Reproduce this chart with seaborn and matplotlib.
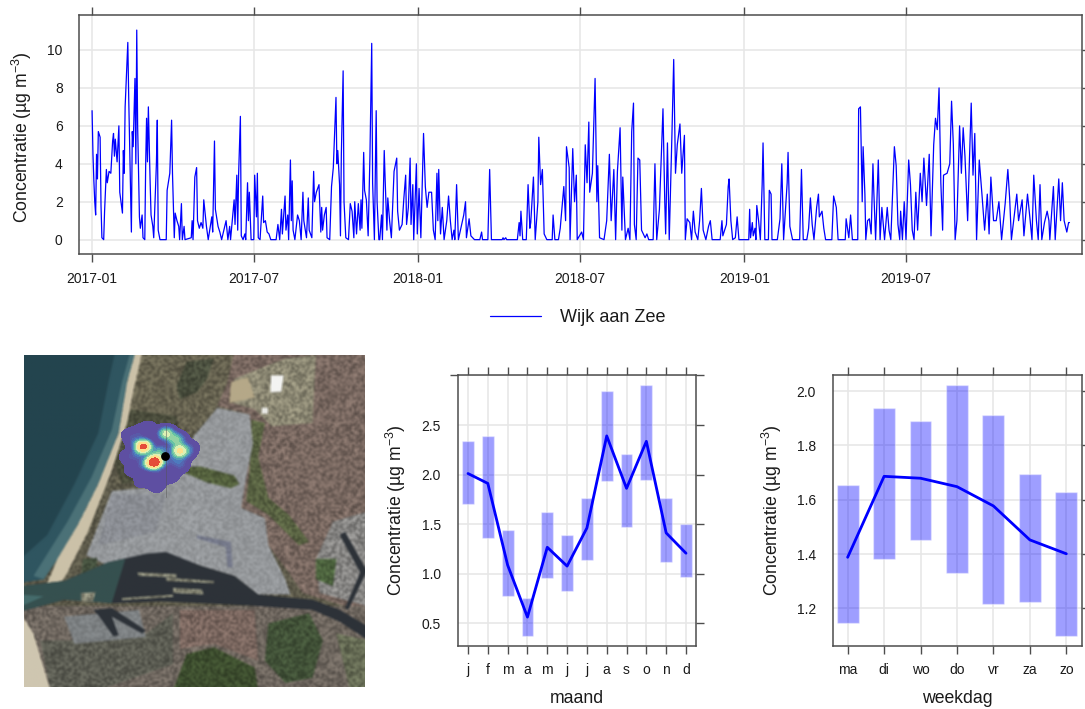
import numpy as np
import pandas as pd
import matplotlib
matplotlib.use('Agg')
import matplotlib.pyplot as plt
import seaborn as sns
from matplotlib.colors import LinearSegmentedColormap
from matplotlib.patches import Polygon

# DATA: TIJDREEKS (dagen sinds 2017-01-01, concentratie)
dag = [0,1,2,3,4,5,6,7,9,10,11,13,14,16,17,19,21,23,24,25,26,28,30,31,34,35,36,37,40,41,44,45,46,48,49,50,51,53,54,56,57,59,60,61,62,63,65,66,68,69,72,73,74,76,83,84,87,89,90,92,93,95,97,98,100,101,103,104,111,112,113,115,117,118,120,122,124,125,127,128,130,134,135,137,138,141,143,145,150,152,154,155,159,160,162,163,164,166,167,169,171,172,174,175,176,178,181,182,184,185,186,188,191,192,194,196,198,200,206,208,210,212,213,216,217,219,220,222,223,224,225,227,230,232,234,236,237,240,242,243,246,248,249,251,254,256,257,258,260,262,263,266,268,270,273,274,275,277,278,279,281,282,284,287,289,291,293,294,296,298,300,301,302,304,305,307,309,311,313,314,316,318,319,321,322,324,325,327,328,330,331,333,335,338,341,342,344,
       347,349,351,352,354,356,357,359,360,363,364,366,368,371,373,375,377,380,382,384,386,387,388,390,392,394,397,399,401,403,405,406,408,410,416,418,419,422,424,428,434,436,437,443,445,447,459,460,461,463,464,476,478,479,480,482,486,488,490,491,494,496,499,500,502,504,506,509,515,516,518,522,524,528,530,531,534,535,538,540,542,543,548,550,552,554,556,557,560,563,565,566,568,573,576,579,581,584,586,588,591,593,594,597,600,602,604,606,607,609,611,613,615,619,621,623,628,630,632,635,638,639,641,642,644,646,649,651,653,655,658,660,663,664,666,669,671,673,675,678,680,682,684,687,690,692,694,703,705,706,710,712,713,715,717,720,722,724,
       735,736,737,739,740,742,743,744,746,748,750,751,753,757,758,760,761,767,770,772,774,778,779,781,784,792,794,796,800,802,804,806,808,811,813,814,817,819,821,828,830,833,835,843,844,847,849,851,857,858,860,862,863,865,866,868,870,872,874,875,877,880,882,884,887,890,892,894,898,900,902,904,905,907,909,911,914,916,918,920,922,924,927,929,931,934,937,939,942,944,946,948,950,952,953,957,960,962,964,966,968,971,973,975,977,980,982,984,986,988,990,993,996,999,1002,1004,1006,1009,1012,1015,1018,1022,1025,1027,1029,1035,1037,1041,1043,1047,1050,1052,1054,1057,1059,1061,1063,1066,1069,1071,1072,1076,1078,1082,1084,1086,1088,1091,1093,1094]
conc = [6.8,4.5,3.1,2.0,1.3,4.5,3.2,5.7,5.4,1.8,0.1,0,1.5,3.7,3.0,3.6,3.5,5.2,5.6,4.4,5.3,4.1,6.0,2.5,1.4,4.7,3.5,7,10.4,7.5,0.4,5.7,4.9,8.5,4,11.05,6,1.2,0.6,1.3,0.1,0,4,6.4,4.1,7,3,1.3,0.7,0.1,4,6.3,0.5,0,0,2.6,3.5,6.3,3.5,0.1,1.4,1,0.7,0,1.9,0,0.7,0,0.1,1,0,3.3,3.8,1,0.6,0.9,0.6,2.1,1.2,0.7,0,1.2,0.4,5.2,1.6,0.7,0.4,0,1,0,0.7,0,2.1,0.8,3.4,0.5,3.4,6.5,0.2,0,0.3,0,3,1,2.5,0,0,3.4,1.2,3.5,0.1,0,2.3,0.9,1,0.4,0.3,0,0,0.8,0,1.6,0.3,2.3,0.5,1.3,0,4.2,1,3.1,0.5,0,1.3,1,0,2.5,1,0.1,2.2,0.5,0.1,3.6,2,2.5,2.9,0.4,1.7,0.5,1.3,1.7,0.1,0,2.8,3.8,7.5,4,4.7,2.9,0.2,4.5,8.9,2,0.1,0,1.9,1.5,0.1,2,0.3,1.9,0.5,2.1,0.6,4.6,2.6,2.1,0.2,4.4,10.35,3,0,6.8,2,0,0,1.3,0,4.7,3.2,0.5,2.2,1,0.1,3.6,4.3,1.5,0.5,
        0.8,2.2,3.4,0.8,1.7,4.3,0.8,2.9,0,4,0.3,2.7,0.1,5.6,2.8,1.7,2.5,2.5,0.5,0,3.5,1,3.7,0.3,1.7,0,1,2.3,1,0,0.5,0,2.9,0,1.3,2,0.1,1.1,0.2,0,0,0.4,0,0,3.7,0,0,0.1,0,0.1,0,0,0.9,0.2,1.5,0,0,2.9,0.6,0.9,3.3,0,2,5.4,2.9,3.7,0.3,0,0,1.3,0,0,0.6,2.8,1,4.9,3.8,0,4.8,2,3.4,0,0.4,0,5,3,6.2,2.5,3.5,8.5,2,3.9,0.1,0,1,4.5,1,3.7,0,3.6,5.9,0.5,3.3,0,0.6,0,5.7,7.2,0.8,0,4.3,4.2,0.5,0.1,0.3,0,0,4,0,1.6,5.7,6.9,2,0.3,5.1,0,5.5,9.5,3.5,5,6.1,3.5,5.5,0,1.1,0.9,0,1.5,0.4,0,1,2.7,0.5,0,0.7,1,0,0,1,0.2,0.8,2.8,3.2,1,0,0.1,1.2,0,
        0,1.6,0.1,0.9,0.2,0.6,0,1.8,1,0,2.9,5.1,0,0,2.6,2.4,0,0,1.1,4,0,3,4.6,0.7,0,0,3.7,0,0,0.6,2.2,0.8,0,1.7,2.4,1.2,1.5,0.6,0,0,2.3,1.7,0,0,1.1,0.1,1.3,0,0,6.9,7,2,4.9,2.4,0,1,1.1,0.3,4,2.5,0,4.2,0,1.7,0,1.7,0.5,0,4.9,3.9,0.8,0,1.5,0,2,0,4.2,2.9,0.5,0,2.5,0.5,3.5,2,4.3,1.8,4.5,0.2,5,6.4,5.8,8,3,0.5,3.4,3.5,4,7.3,5,0,1,6,3.5,5.9,4.4,1,4.2,7.2,3.4,5.6,0,4.2,2.4,0.5,2.4,0.3,3.3,1,1,2,0,1.9,3.7,2.2,0,2.4,1,2.1,0.2,2.4,1,0,3.4,1,0,2.9,0,0.9,1.5,1,0,2.8,0,3.2,1,3,1,0.4,0.9,0.9]
reeks_naam = 'Wijk aan Zee'
y_ticks_top = [0, 2, 4, 6, 8, 10]
x_ticks_top = ['2017-01', '2017-07', '2018-01', '2018-07', '2019-01', '2019-07']

# DATA: MAAND
maanden = ['j', 'f', 'm', 'a', 'm', 'j', 'j', 'a', 's', 'o', 'n', 'd']
maand_gem = [2.01, 1.91, 1.085, 0.56, 1.265, 1.075, 1.46, 2.39, 1.86, 2.335, 1.41, 1.205]
maand_laag = [1.70, 1.355, 0.77, 0.37, 0.95, 0.825, 1.14, 1.93, 1.47, 1.94, 1.115, 0.96]
maand_hoog = [2.338, 2.385, 1.44, 0.75, 1.625, 1.385, 1.765, 2.845, 2.205, 2.905, 1.765, 1.505]
y_ticks_maand = [0.5, 1.0, 1.5, 2.0, 2.5, 3.0]

# DATA: WEEKDAG
dagen = ['ma', 'di', 'wo', 'do', 'vr', 'za', 'zo']
dag_gem = [1.388, 1.686, 1.679, 1.648, 1.577, 1.452, 1.401]
dag_laag = [1.145, 1.38, 1.45, 1.329, 1.215, 1.223, 1.099]
dag_hoog = [1.653, 1.939, 1.891, 2.023, 1.913, 1.695, 1.629]
y_ticks_dag = [1.2, 1.4, 1.6, 1.8, 2.0]

# DATA: POLLUTIEROOS OP DE KAART
roos_x = [462, 430, 538, 497, 525, 480, 400, 380, 395, 425, 470, 515, 545, 565, 575, 540, 445, 385, 420, 430, 505, 410, 480, 535]
roos_y = [352, 305, 318, 265, 285, 320, 290, 335, 375, 410, 425, 395, 365, 325, 305, 280, 245, 268, 260, 360, 350, 335, 395, 350]
roos_w = [11, 9, 6, 5, 3, 3, 1.2, 1.2, 1.2, 1.2, 1.2, 1.2, 1.2, 1.2, 1, 1.2, 1, 1, 1.2, 1.2, 1.2, 1.2, 1.2, 1.2]

sns.set_theme(style='white')
plt.rcParams['font.family'] = ['Liberation Sans', 'DejaVu Sans']
plt.rcParams['mathtext.fontset'] = 'custom'
plt.rcParams['mathtext.rm'] = 'Liberation Sans'
plt.rcParams['mathtext.default'] = 'regular'

B, H = 1085, 709
KADER = '#4d4d4d'
GRID = '#e6e6e6'
YLABEL = 'Concentratie (µg m$^{-3}$)'

# ACHTERGROND KAART: vlakken, daarna korrel en vervaging
vlakken = [
    # zee
    ([(72, 30), (410, 30), (385, 120), (360, 270), (300, 420), (240, 540), (180, 640), (140, 700), (72, 710)], '#24444e'),
    ([(350, 30), (410, 30), (385, 120), (360, 270), (300, 420), (240, 540), (180, 640), (140, 700), (72, 710), (72, 640), (150, 570), (230, 420), (300, 270), (330, 120)], '#2f5560'),
    ([(395, 30), (410, 30), (385, 120), (360, 270), (300, 420), (240, 540), (180, 640), (140, 700), (110, 690), (210, 530), (280, 400), (340, 260), (370, 120)], '#4b7177'),
    # noordelijke duinen
    ([(430, 30), (760, 30), (690, 180), (560, 280), (520, 390), (350, 420), (385, 240), (405, 140)], '#6a6653'),
    ([(560, 60), (640, 50), (620, 110), (590, 150), (540, 170), (530, 130)], '#4c5140'),
    ([(395, 200), (530, 220), (540, 280), (500, 400), (370, 420), (345, 350)], '#4d4f3e'),
    # stad oost
    ([(700, 30), (1094, 30), (1094, 800), (900, 740), (860, 680), (800, 600), (790, 520), (720, 490), (745, 300), (745, 215), (650, 190), (680, 120)], '#7b6a62'),
    ([(700, 110), (850, 50), (940, 40), (930, 240), (810, 250), (760, 200), (690, 180)], '#8f8b76'),
    ([(750, 230), (790, 240), (770, 340), (800, 460), (860, 510), (920, 590), (890, 600), (800, 510), (735, 470), (745, 380)], '#5b6544'),
    ([(990, 530), (1094, 500), (1094, 780), (950, 740), (940, 640)], '#8b8a88'),
    ([(940, 640), (1000, 640), (990, 720), (940, 700)], '#4f6640'),
    ([(808, 100), (845, 100), (838, 148), (806, 150)], '#f4f4f2'),
    ([(782, 195), (800, 195), (800, 212), (782, 212)], '#e8e8e4'),
    ([(690, 120), (740, 105), (760, 165), (685, 182)], '#b5a888'),
    # staalfabriek
    ([(650, 195), (745, 215), (755, 300), (735, 400), (720, 490), (790, 520), (800, 600), (850, 700), (865, 745), (770, 745), (700, 690), (600, 660), (500, 625), (440, 630), (330, 660), (265, 630), (340, 440), (450, 430), (520, 390), (580, 280)], '#95989b'),
    ([(590, 570), (690, 590), (695, 665), (680, 665), (675, 605), (590, 580)], '#75798a'),
    ([(340, 450), (500, 450), (470, 560), (300, 600)], '#8b8e94'),
    ([(545, 370), (600, 368), (700, 395), (715, 420), (690, 432), (620, 415), (550, 385)], '#56633f'),
    ([(255, 640), (297, 637), (295, 680), (250, 690)], '#475340'),
    # strand
    ([(410, 30), (430, 30), (405, 140), (385, 240), (340, 380), (270, 560), (210, 680), (190, 712), (150, 712), (180, 640), (240, 540), (300, 420), (360, 270), (385, 120)], '#cbc1a8'),
    # zuid
    ([(72, 780), (1094, 780), (1094, 1027), (72, 1027)], '#716961'),
    ([(520, 1027), (560, 920), (640, 900), (760, 960), (770, 1027)], '#3f5030'),
    ([(800, 830), (920, 800), (960, 880), (930, 990), (850, 1005), (790, 940)], '#44553a'),
    ([(540, 790), (760, 790), (770, 940), (640, 890), (540, 905)], '#7e6a62'),
    ([(1000, 860), (1094, 880), (1094, 1027), (1040, 1027)], '#6a7058'),
    ([(130, 880), (220, 880), (440, 860), (520, 800), (520, 950), (300, 1027), (160, 1027)], '#5e5f55'),
    ([(200, 810), (420, 790), (440, 870), (230, 890)], '#7d8183'),
    ([(72, 800), (110, 860), (160, 1027), (72, 1027)], '#cfc6b0'),
    # water
    ([(72, 720), (200, 705), (330, 650), (440, 625), (500, 620), (600, 660), (700, 690), (770, 745), (930, 760), (1010, 790), (1094, 840), (1094, 880), (1010, 825), (930, 790), (760, 778), (600, 770), (480, 765), (350, 770), (200, 760), (72, 795)], '#2d3238'),
    ([(72, 720), (200, 705), (330, 650), (380, 640), (340, 770), (200, 760), (72, 795)], '#36504f'),
    ([(72, 745), (140, 750), (72, 780)], '#456c6c'),
    ([(1010, 570), (1025, 560), (1090, 675), (1035, 790), (1025, 785), (1070, 680)], '#2d3238'),
    ([(285, 790), (340, 785), (440, 850), (430, 860), (340, 810), (360, 865), (345, 868), (300, 805)], '#2d3238'),
    # pieren
    ([(415, 680), (530, 685), (530, 695), (420, 690)], '#8a8a78'),
    ([(500, 695), (640, 705), (640, 712), (500, 705)], '#8a8a78'),
    ([(520, 725), (605, 730), (610, 745), (520, 740)], '#8a8a78'),
    ([(370, 755), (520, 745), (520, 752), (370, 762)], '#8a8a78'),
    ([(250, 740), (292, 738), (285, 765), (250, 765)], '#8a8a78'),
]

def kaart_plaatje():
    f = plt.figure(figsize=(3.41, 3.32), dpi=100)
    a = f.add_axes([0, 0, 1, 1])
    for punten, kleur in vlakken:
        a.add_patch(Polygon(punten, closed=True, facecolor=kleur, edgecolor='none'))
    a.set_xlim(76, 1090)
    a.set_ylim(1023, 34)
    a.axis('off')
    f.patch.set_facecolor('#5f5c4c')
    f.canvas.draw()
    rgb = np.asarray(f.canvas.buffer_rgba())[:, :, :3] / 255
    plt.close(f)
    # korrel op land (vaste patroonfunctie), zee en strand blijven glad
    yy, xx = np.indices(rgb.shape[:2]) // 2
    korrel = np.sin(xx * 12.9898 + yy * 78.233) * 43758.5453 % 1
    land = (rgb[:, :, 0] >= rgb[:, :, 2]) & (rgb[:, :, 0] < 0.7)
    staal = (rgb[:, :, 2] > rgb[:, :, 0]) & (rgb[:, :, 0] > 0.45)
    fac = np.where(land, 0.72 + 0.5 * korrel, 1.0)
    fac = np.where(staal, 0.9 + 0.2 * korrel, fac)
    rgb = np.clip(rgb * fac[:, :, None], 0, 1)
    # vervagen met 3x3 gemiddelde
    som = sum(np.roll(np.roll(rgb, i, 0), j, 1) for i in (-1, 0, 1) for j in (-1, 0, 1))
    return (som / 9)[2:-2, 2:-2]

fig = plt.figure(figsize=(B / 100, H / 100), dpi=100)

def as_px(x0, y0, x1, y1):
    return fig.add_axes([x0 / B, 1 - y1 / H, (x1 - x0) / B, (y1 - y0) / H])

def opmaak(ax):
    ax.grid(True, color=GRID, lw=1.1)
    ax.set_axisbelow(True)
    for s in ax.spines.values():
        s.set_visible(True)
        s.set_color(KADER)
        s.set_linewidth(1.1)
    ax.tick_params(axis='x', top=True, bottom=True, length=5.5, width=1, color=KADER,
                   labelsize=10, labelcolor='#1a1a1a', pad=7)
    ax.tick_params(axis='y', left=False, right=True, length=5.5, width=1, color=KADER,
                   labelsize=10, labelcolor='#1a1a1a', pad=6.5)

# GRAFIEK 1: TIJDREEKS
ax1 = as_px(79.3, 15, 1082, 254.3)
df = pd.DataFrame({'dag': dag, 'conc': conc})
sns.lineplot(data=df, x='dag', y='conc', color='#0000ff', lw=0.9, estimator=None,
             sort=False, label=reeks_naam, legend=False, ax=ax1)
ax1.set_xlim(-14.3, 1108)
ax1.set_ylim(-0.773, 11.845)
x_pos = [(pd.Timestamp(t + '-01') - pd.Timestamp('2017-01-01')).days for t in x_ticks_top]
ax1.set_xticks(x_pos, x_ticks_top)
ax1.set_yticks(y_ticks_top)
opmaak(ax1)
ax1.set_xlabel('')
ax1.set_ylabel(YLABEL, fontsize=12.7, color='#1a1a1a')
ax1.yaxis.set_label_coords((34 - 79.3) / 1002.7, 0.49)
h, l = ax1.get_legend_handles_labels()
fig.legend(h, l, loc='center', bbox_to_anchor=(578 / B, 1 - 318 / H), frameon=False,
           fontsize=13, handlelength=2.8, handletextpad=1.1, labelcolor='#1a1a1a')

# KAART
roos_cmap = LinearSegmentedColormap.from_list('roos', [
    (0.0, '#5e4fa2'), (0.1, '#5e4fa2'), (0.2, '#4c7fc0'), (0.3, '#66c2a5'), (0.4, '#abdda4'),
    (0.5, '#ffffbf'), (0.62, '#fee08b'), (0.72, '#fdae61'), (0.85, '#e8503a'), (1.0, '#b2102f')])
axk = as_px(24, 355, 365, 687)
axk.imshow(kaart_plaatje(), extent=(72, 1094, 1027, 30), aspect='auto', interpolation='bilinear')
sns.kdeplot(x=roos_x, y=roos_y, weights=roos_w, fill=True, cmap=roos_cmap,
            levels=[0.04, 0.22, 0.27, 0.32, 0.38, 0.45, 0.53, 0.62, 0.72, 0.82, 0.92, 1],
            bw_adjust=0.5, ax=axk)
axk.plot([497, 497], [240, 455], color='#555555', lw=0.5, alpha=0.7)
axk.scatter([495], [332], s=28, color='black', zorder=5)
axk.set_xlim(72, 1094)
axk.set_ylim(1027, 30)
axk.set_xlabel('')
axk.set_ylabel('')
axk.set_xticks([])
axk.set_yticks([])
for s in axk.spines.values():
    s.set_visible(False)

# GRAFIEK 2: MAAND
ax2 = as_px(457.7, 375, 696.3, 645.7)
x_m = list(range(len(maanden)))
sns.barplot(x=x_m, y=np.array(maand_hoog) - np.array(maand_laag), bottom=maand_laag, width=0.6,
            color='#0000ff', alpha=0.38, saturation=1, errorbar=None, ax=ax2)
sns.lineplot(x=x_m, y=maand_gem, color='#0000ff', lw=2, ax=ax2)
ax2.set_xlim(-0.52, 11.52)
ax2.set_ylim(0.271, 3.005)
ax2.set_xticks(x_m, maanden)
ax2.set_yticks(y_ticks_maand, ['0.5', '1.0', '1.5', '2.0', '2.5', ''])
opmaak(ax2)
ax2.yaxis.get_major_ticks()[-1].tick1line.set_visible(True)
ax2.set_xlabel('maand', fontsize=12.7, color='#1a1a1a')
ax2.xaxis.set_label_coords((576.7 - 457.7) / 238.6, (645.7 - 690) / 270.7)
ax2.set_ylabel(YLABEL, fontsize=12.7, color='#1a1a1a')
ax2.yaxis.set_label_coords((408 - 457.7) / 238.6, 0.5)

# GRAFIEK 3: WEEKDAG
ax3 = as_px(832.7, 375, 1082, 645.7)
x_d = list(range(len(dagen)))
sns.barplot(x=x_d, y=np.array(dag_hoog) - np.array(dag_laag), bottom=dag_laag, width=0.6,
            color='#0000ff', alpha=0.38, saturation=1, errorbar=None, ax=ax3)
sns.lineplot(x=x_d, y=dag_gem, color='#0000ff', lw=2, ax=ax3)
ax3.set_xlim(-0.41, 6.43)
ax3.set_ylim(1.0626, 2.059)
ax3.set_xticks(x_d, dagen)
ax3.set_yticks(y_ticks_dag, ['1.2', '1.4', '1.6', '1.8', '2.0'])
opmaak(ax3)
ax3.set_xlabel('weekdag', fontsize=12.7, color='#1a1a1a')
ax3.xaxis.set_label_coords((957 - 832.7) / 249.3, (645.7 - 690) / 270.7)
ax3.set_ylabel(YLABEL, fontsize=12.7, color='#1a1a1a')
ax3.yaxis.set_label_coords((784 - 832.7) / 249.3, 0.5)

fig.savefig('out.png', dpi=100)
